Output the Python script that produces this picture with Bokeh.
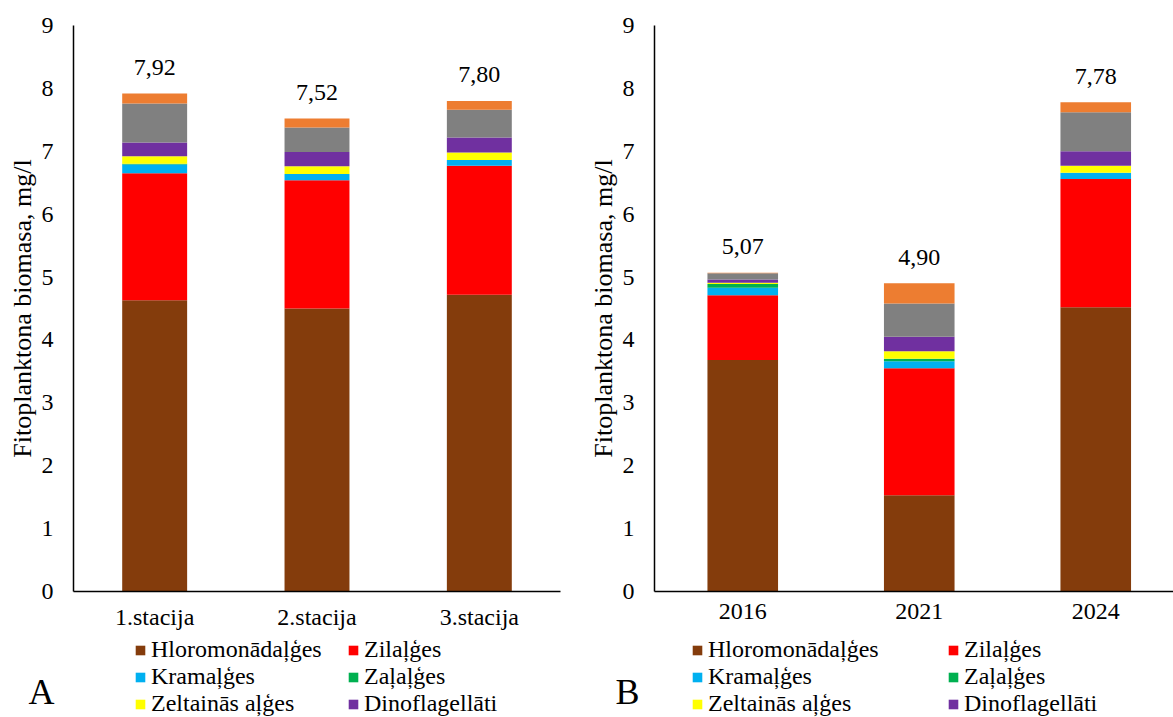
from bokeh.plotting import figure
from bokeh.layouts import row
from bokeh.models import ColumnDataSource, Range1d, FixedTicker, Legend, LegendItem, Label
from bokeh.core.properties import value
from bokeh.embed import file_html
from bokeh.resources import INLINE

# Categories
stations = ["1.stacija", "2.stacija", "3.stacija"]
years = ["2016", "2021", "2024"]

# Phytoplankton groups (legend names) and stack order
group_names = ["Hloromonādaļģes", "Zilaļģes", "Kramaļģes", "Zaļaļģes",
               "Zeltainās aļģes", "Dinoflagellāti"]
series_keys = ["hloromonadalges", "zilalges", "kramalges", "zalalges",
               "zeltainas", "dinoflagellati", "group_grey", "group_orange"]
colors = ["#843C0C", "#FF0000", "#00B0F0", "#00B050",
          "#FFFF00", "#7030A0", "#808080", "#ED7D31"]

# Biomass by station, mg/l
hloromonadalges_st = [4.63, 4.50, 4.72]
zilalges_st = [2.02, 2.04, 2.05]
kramalges_st = [0.14, 0.10, 0.09]
zalalges_st = [0.01, 0.00, 0.00]
zeltainas_st = [0.12, 0.12, 0.12]
dinoflagellati_st = [0.22, 0.23, 0.24]
grey_st = [0.62, 0.39, 0.44]
orange_st = [0.16, 0.14, 0.14]

# Biomass by year, mg/l
hloromonadalges_y = [3.68, 1.53, 4.52]
zilalges_y = [1.03, 2.02, 2.04]
kramalges_y = [0.12, 0.11, 0.10]
zalalges_y = [0.06, 0.04, 0.00]
zeltainas_y = [0.02, 0.12, 0.11]
dinoflagellati_y = [0.05, 0.23, 0.23]
grey_y = [0.10, 0.53, 0.62]
orange_y = [0.01, 0.32, 0.16]

FONT = "Liberation Serif"
HEIGHT = 717
TOP = 25            # pixel row of the value axis maximum
AXIS_BOTTOM = 591   # pixel row of the category axis
Y_MAX = 9


def make_panel(cats, columns, width, axis_x, cat_step, letter, letter_x,
               legend_x1, legend_x2):
    data = dict(zip(series_keys, columns))
    data["x"] = list(range(len(cats)))
    totals = [round(sum(vals), 2) for vals in zip(*columns)]
    data["total"] = totals
    data["label"] = [f"{t:.2f}".replace(".", ",") for t in totals]
    src = ColumnDataSource(data)

    # the frame covers the whole figure; axes are pinned to x=-0.5 / y=0 so
    # that tick labels, legend and panel letter all stay inside the frame
    y_unit = (AXIS_BOTTOM - TOP) / Y_MAX
    y_start = -(HEIGHT - AXIS_BOTTOM) / y_unit
    y_end = Y_MAX + TOP / y_unit
    x_start = -0.5 - axis_x / cat_step
    x_end = x_start + width / cat_step

    p = figure(width=width, height=HEIGHT, output_backend="svg", toolbar_location=None,
               x_range=Range1d(x_start, x_end), y_range=Range1d(y_start, y_end),
               min_border_left=0, min_border_right=0,
               min_border_top=0, min_border_bottom=0)
    p.outline_line_color = None
    p.xgrid.visible = False
    p.ygrid.visible = False
    p.background_fill_color = "white"
    p.border_fill_color = "white"

    renderers = p.vbar_stack(series_keys, x="x", width=0.4, color=colors,
                             line_color=None, source=src)

    p.text(x="x", y="total", text="label", source=src,
           text_font=value(FONT), text_font_size="24px", text_color="#000000",
           text_align="center", text_baseline="alphabetic", y_offset=-26)

    # axes
    p.xaxis.fixed_location = 0
    p.xaxis.bounds = (-0.5, len(cats) - 0.5)
    p.xaxis.ticker = FixedTicker(ticks=list(range(len(cats))))
    p.xaxis.major_label_overrides = {i: c for i, c in enumerate(cats)}
    p.yaxis.fixed_location = -0.5
    p.yaxis.bounds = (0, Y_MAX)
    p.yaxis.ticker = FixedTicker(ticks=list(range(Y_MAX + 1)))
    p.yaxis.axis_label = "Fitoplanktona biomasa, mg/l"
    for ax in (p.xaxis[0], p.yaxis[0]):
        ax.axis_line_color = "#000000"
        ax.axis_line_width = 1.5
        ax.major_tick_line_color = None
        ax.minor_tick_line_color = None
        ax.major_tick_out = 0
        ax.major_tick_in = 0
        ax.major_label_text_font = FONT
        ax.major_label_text_font_size = "24px"
        ax.major_label_text_color = "#000000"
        ax.axis_label_text_font = FONT
        ax.axis_label_text_font_size = "26px"
        ax.axis_label_text_font_style = "normal"
        ax.axis_label_text_color = "#000000"
    p.xaxis.major_label_standoff = 12
    p.yaxis.major_label_standoff = 20
    p.yaxis.axis_label_standoff = 2

    # legend in two columns below the category axis
    items = [LegendItem(label=n, renderers=[renderers[i]]) for i, n in enumerate(group_names)]
    for xloc, its in ((legend_x1, items[0::2]), (legend_x2, items[1::2])):
        lg = Legend(items=its, location=(xloc, 0), orientation="vertical",
                    glyph_width=12, glyph_height=12, label_standoff=5,
                    label_height=26, spacing=0, padding=0, margin=0,
                    border_line_color=None, background_fill_alpha=0,
                    label_text_font=FONT, label_text_font_size="24px",
                    label_text_color="#000000")
        p.add_layout(lg, "center")

    p.add_layout(Label(x=letter_x, y=26, x_units="screen", y_units="screen",
                       text=letter, text_font=FONT, text_font_size="36px",
                       text_color="#000000", text_baseline="alphabetic"))
    return p


left = make_panel(stations,
                  [hloromonadalges_st, zilalges_st, kramalges_st, zalalges_st,
                   zeltainas_st, dinoflagellati_st, grey_st, orange_st],
                  590, 73, (560 - 73) / 3, "A", 28, 134, 347)
right = make_panel(years,
                   [hloromonadalges_y, zilalges_y, kramalges_y, zalalges_y,
                    zeltainas_y, dinoflagellati_y, grey_y, orange_y],
                   583, 64, 176.5, "B", 25, 101, 357)

layout = row(left, right)
open("out.html", "w").write(file_html(layout, INLINE))
